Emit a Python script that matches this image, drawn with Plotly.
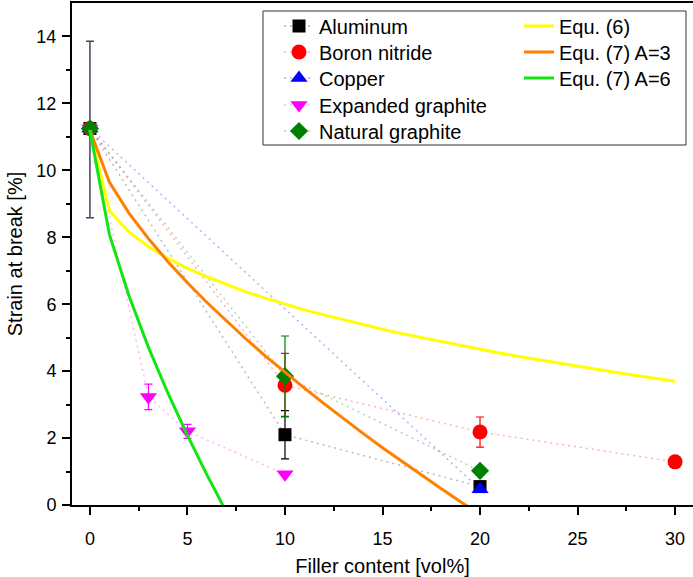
import plotly.graph_objects as go

# ---- measured data ----
al_x = [0, 10, 20]
al_y = [11.25, 2.1, 0.55]
al_e = [0, 0.72, 0]

bn_x = [0, 10, 20, 30]
bn_y = [11.25, 3.58, 2.18, 1.29]
bn_e = [0, 0.95, 0.45, 0]

cu_x = [0, 20]
cu_y = [11.25, 0.47]
cu_e = [0, 0]

eg_x = [0, 3, 5, 10]
eg_y = [11.25, 3.23, 2.2, 0.92]
eg_e = [0, 0.38, 0.21, 0]

ng_x = [0, 10, 20]
ng_y = [11.25, 3.85, 1.02]
ng_e = [0, 1.2, 0]

start_x = [0]
start_y = [11.22]
start_e = [2.64]

# ---- model curves ----
eq6_x = list(range(0, 31))
eq6_y = [11.2, 8.79, 8.16, 7.72, 7.37, 7.07, 6.82, 6.59, 6.37, 6.18, 6.00,
         5.83, 5.68, 5.53, 5.39, 5.25, 5.12, 5.00, 4.88, 4.76, 4.65,
         4.54, 4.44, 4.34, 4.24, 4.14, 4.05, 3.96, 3.87, 3.79, 3.70]

eq7a3_x = list(range(0, 21))
eq7a3_y = [11.2, 9.64, 8.72, 7.96, 7.27, 6.64, 6.05, 5.49, 4.96, 4.45, 3.96,
           3.49, 3.03, 2.58, 2.14, 1.71, 1.30, 0.89, 0.49, 0.10, -0.29]

eq7a6_x = list(range(0, 8))
eq7a6_y = [11.2, 8.08, 6.25, 4.71, 3.34, 2.08, 0.90, -0.21]

series = [
    ("Aluminum", al_x, al_y, al_e, "#000000", "rgba(60,60,60,0.35)", "square", 13),
    ("Boron nitride", bn_x, bn_y, bn_e, "#FF0000", "rgba(255,0,0,0.3)", "circle", 15),
    ("Copper", cu_x, cu_y, cu_e, "#0000FF", "rgba(0,0,255,0.3)", "triangle-up", 15),
    ("Expanded graphite", eg_x, eg_y, eg_e, "#FF00FF", "rgba(255,0,255,0.3)", "triangle-down", 15),
    ("Natural graphite", ng_x, ng_y, ng_e, "#007F00", "rgba(0,127,0,0.3)", "diamond", 14),
]

curves = [
    ("Equ. (6)", eq6_x, eq6_y, "#FFFF00"),
    ("Equ. (7) A=3", eq7a3_x, eq7a3_y, "#FF7F00"),
    ("Equ. (7) A=6", eq7a6_x, eq7a6_y, "#13E513"),
]

FONT = "Arial, Liberation Sans, sans-serif"

L, B, W, H = 72, 505, 621, 502
def px(xp):
    return (xp - L) / W
def py(yp):
    return (B - yp) / H

row_y = [26, 52, 78, 105, 131]

fig = go.Figure()

fig.add_trace(go.Scatter(
    x=start_x, y=start_y, mode="markers",
    marker=dict(size=1, color="rgba(0,0,0,0)"),
    error_y=dict(type="data", array=start_e, color="#4B3F5F", thickness=1.5, width=4),
    showlegend=False, hoverinfo="skip"))

legends = {}
k = 1
for i, (name, xs, ys, es, col, lcol, sym, sz) in enumerate(series):
    lg = "legend" if k == 1 else f"legend{k}"
    fig.add_trace(go.Scatter(
        x=xs, y=ys, name=name, mode="lines+markers",
        line=dict(color=lcol, width=1.5, dash="2px,4px"),
        marker=dict(symbol=sym, size=sz, color=col, line=dict(width=0)),
        error_y=dict(type="data", array=es, color=col, thickness=1.2, width=4),
        legend=lg))
    legends[lg] = dict(x=px(279), y=py(row_y[i]), xanchor="left", yanchor="middle",
                       font=dict(size=20), bgcolor="rgba(0,0,0,0)", borderwidth=0)
    k += 1

for i, (name, xs, ys, col) in enumerate(curves):
    lg = f"legend{k}"
    fig.add_trace(go.Scatter(
        x=xs, y=ys, name=name, mode="lines",
        line=dict(color=col, width=3),
        legend=lg))
    legends[lg] = dict(x=px(519), y=py(row_y[i]), xanchor="left", yanchor="middle",
                       font=dict(size=20), bgcolor="rgba(0,0,0,0)", borderwidth=0)
    k += 1

fig.update_layout(
    width=693, height=577,
    margin=dict(l=72, r=0, t=3, b=72),
    paper_bgcolor="white", plot_bgcolor="white",
    font=dict(family=FONT, size=18, color="black"),
    xaxis=dict(
        range=[-0.92, 30.92], tickvals=[0, 5, 10, 15, 20, 25, 30],
        ticks="outside", ticklen=8, tickwidth=2, tickcolor="black",
        showline=True, linewidth=2, linecolor="black", mirror=True,
        showgrid=False, zeroline=False,
        minor=dict(tickvals=[2.5, 7.5, 12.5, 17.5, 22.5, 27.5], ticks="outside",
                   ticklen=4, tickwidth=2, tickcolor="black"),
        tickfont=dict(size=18), ticklabelstandoff=8,
        title=dict(text="Filler content [vol%]", font=dict(size=20), standoff=14)),
    yaxis=dict(
        range=[0, 15], tickvals=[0, 2, 4, 6, 8, 10, 12, 14],
        ticks="outside", ticklen=8, tickwidth=2, tickcolor="black",
        showline=True, linewidth=2, linecolor="black",
        showgrid=False, zeroline=False,
        minor=dict(tickvals=[1, 3, 5, 7, 9, 11, 13], ticks="outside",
                   ticklen=4, tickwidth=2, tickcolor="black"),
        tickfont=dict(size=18), ticklabelstandoff=2,
        title=dict(text="Strain at break [%]", font=dict(size=20), standoff=8)),
    shapes=[dict(type="rect", xref="paper", yref="paper",
                 x0=px(263), x1=px(686), y0=py(145), y1=py(11),
                 line=dict(color="#333333", width=1), fillcolor="rgba(0,0,0,0)")],
    **legends,
)

fig.write_html("out.html")
